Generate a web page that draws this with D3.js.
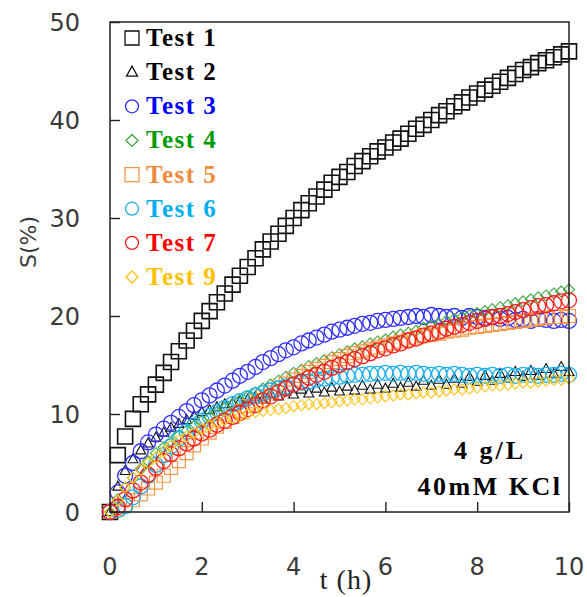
<!DOCTYPE html>
<html>
<head>
<meta charset="utf-8">
<script src="https://cdn.jsdelivr.net/npm/d3@7"></script>
<style>
  body { margin: 0; background: #fff; }
  svg { display: block; }
</style>
</head>
<body>
<svg width="587" height="597"></svg>
<script>
// time axis (h), one reading every 10 minutes
var times = [0, 0.17, 0.33, 0.5, 0.67, 0.83, 1, 1.17, 1.33, 1.5, 1.67, 1.83, 2,
    2.17, 2.33, 2.5, 2.67, 2.83, 3, 3.17, 3.33, 3.5, 3.67, 3.83, 4,
    4.17, 4.33, 4.5, 4.67, 4.83, 5, 5.17, 5.33, 5.5, 5.67, 5.83, 6,
    6.17, 6.33, 6.5, 6.67, 6.83, 7, 7.17, 7.33, 7.5, 7.67, 7.83, 8,
    8.17, 8.33, 8.5, 8.67, 8.83, 9, 9.17, 9.33, 9.5, 9.67, 9.83, 10];

var test1 = [0, 5.8, 7.7, 9.5, 11, 12, 13, 14.2, 15.3, 16.4, 17.5, 18.5, 19.5,
    20.5, 21.4, 22.3, 23.2, 24.1, 25, 25.9, 26.8, 27.6, 28.4, 29.2, 30,
    30.8, 31.5, 32.2, 32.9, 33.6, 34.2, 34.7, 35.3, 35.8, 36.3, 36.8, 37.2,
    37.7, 38.1, 38.6, 39.1, 39.5, 40, 40.5, 40.9, 41.4, 41.8, 42.3, 42.7,
    43.1, 43.5, 43.9, 44.3, 44.7, 45.1, 45.4, 45.8, 46.1, 46.4, 46.7, 47];
var test2 = [0, 2.6, 4.2, 5.4, 6.3, 7, 7.6, 8.1, 8.6, 9, 9.4, 9.8, 10.2,
    10.4, 10.7, 11, 11.1, 11.3, 11.5, 11.8, 11.5, 12.1, 11.8, 12.3, 12,
    12.5, 12.1, 12.6, 12.2, 12.7, 12.3, 12.8, 12.4, 12.9, 12.5, 13, 12.6,
    13.1, 12.7, 13.2, 12.8, 13.4, 12.9, 13.5, 13, 13.6, 13.1, 13.8, 13.3,
    13.9, 13.4, 14.1, 13.6, 14.3, 13.8, 14.4, 13.9, 14.6, 14.1, 14.8, 14.3];
var test3 = [0, 2, 3.7, 5, 6.2, 7.1, 7.9, 8.5, 9.1, 9.7, 10.3, 10.9, 11.4,
    11.9, 12.4, 12.9, 13.4, 13.9, 14.3, 14.8, 15.3, 15.7, 16.1, 16.5, 16.8,
    17.2, 17.5, 17.8, 18.1, 18.4, 18.6, 18.8, 19, 19.2, 19.3, 19.5, 19.6,
    19.7, 19.8, 19.9, 20, 19.9, 20.1, 20, 19.9, 20, 19.8, 20, 19.9,
    19.8, 19.9, 19.7, 19.8, 19.6, 19.7, 19.5, 19.7, 19.6, 19.5, 19.6, 19.5];
var test4 = [0, 1.3, 2.5, 3.5, 4.4, 5.2, 6, 6.6, 7.2, 7.8, 8.3, 8.8, 9.3,
    9.7, 10.2, 10.6, 11, 11.4, 11.8, 12.2, 12.6, 13, 13.4, 13.8, 14.2,
    14.5, 14.9, 15.2, 15.5, 15.8, 16.1, 16.4, 16.7, 16.9, 17.2, 17.4, 17.6,
    17.9, 18.1, 18.3, 18.5, 18.8, 19, 19.2, 19.5, 19.7, 19.9, 20.1, 20.3,
    20.5, 20.7, 20.9, 21.1, 21.3, 21.5, 21.7, 21.9, 22.1, 22.3, 22.5, 22.7];
var test5 = [0, 0.3, 0.7, 1.2, 1.8, 2.4, 3, 3.7, 4.5, 5.2, 6, 6.8, 7.5,
    8.1, 8.7, 9.2, 9.7, 10.3, 10.8, 11.3, 11.8, 12.2, 12.7, 13.1, 13.5,
    13.9, 14.3, 14.6, 14.9, 15.3, 15.6, 15.9, 16.2, 16.4, 16.6, 16.8, 17,
    17.2, 17.4, 17.6, 17.8, 18, 18.1, 18.2, 18.4, 18.5, 18.6, 18.8, 18.9,
    19, 19.1, 19.2, 19.3, 19.4, 19.5, 19.6, 19.7, 19.8, 19.9, 19.9, 20];
var test6 = [0, 0.2, 0.6, 1.5, 2.6, 3.7, 4.8, 5.8, 6.7, 7.5, 8.2, 8.8, 9.3,
    9.8, 10.2, 10.6, 11, 11.3, 11.6, 11.9, 12.1, 12.4, 12.6, 12.8, 13,
    13.2, 13.3, 13.5, 13.6, 13.7, 13.8, 13.9, 14, 14, 14.1, 14.1, 14.2,
    14.1, 14.2, 14.1, 14.2, 14.1, 14, 14.1, 14, 14.1, 14, 13.9, 14,
    13.9, 14, 13.9, 14, 13.9, 14, 14, 13.9, 14, 14, 14.1, 14];
var test7 = [0, 0.5, 1.3, 2.2, 3, 3.8, 4.5, 5.2, 5.9, 6.5, 7, 7.5, 8,
    8.4, 8.9, 9.3, 9.7, 10.1, 10.5, 10.9, 11.4, 11.8, 12.2, 12.6, 13,
    13.3, 13.7, 14, 14.3, 14.7, 15, 15.3, 15.6, 15.9, 16.2, 16.5, 16.7,
    17, 17.2, 17.5, 17.7, 18, 18.2, 18.4, 18.7, 18.9, 19.1, 19.3, 19.5,
    19.7, 19.9, 20, 20.2, 20.4, 20.6, 20.8, 21, 21.1, 21.3, 21.5, 21.6];
var test9 = [0, 1.2, 2.5, 3.5, 4.3, 5, 5.6, 6.2, 6.8, 7.3, 7.7, 8.1, 8.5,
    8.8, 9.1, 9.4, 9.6, 9.8, 10, 10.2, 10.3, 10.4, 10.5, 10.6, 10.8,
    10.9, 11, 11, 11.1, 11.2, 11.3, 11.4, 11.5, 11.5, 11.6, 11.7, 11.8,
    11.9, 12, 12, 12.1, 12.2, 12.2, 12.3, 12.4, 12.5, 12.5, 12.6, 12.7,
    12.8, 12.9, 12.9, 13, 13.1, 13.2, 13.2, 13.3, 13.4, 13.5, 13.5, 13.6];

var seriesNames = ['Test 1', 'Test 2', 'Test 3', 'Test 4', 'Test 5', 'Test 6', 'Test 7', 'Test 9'];
var seriesValues = [test1, test2, test3, test4, test5, test6, test7, test9];
var seriesShapes = ['square', 'triangle', 'circle', 'diamond', 'square', 'circle', 'circle', 'diamond'];
var markColors = ['#111111', '#111111', '#3030ff', '#3ca83c', '#f79646', '#1ab0ee', '#ff1a1a', '#ffc41a'];
var textColors = ['#000000', '#000000', '#0000ff', '#009a00', '#f08a3c', '#00aef0', '#ff0000', '#ffc000'];

var xTicks = [0, 2, 4, 6, 8, 10];
var yTicks = [0, 10, 20, 30, 40, 50];

d3.select(window).on('load', init);

function init() {
    var svg = d3.select('svg');
    var plotLeft = 110, plotRight = 569, plotTop = 22, plotBottom = 512;

    var xScale = d3.scaleLinear().domain([0, 10]).range([plotLeft, plotRight]);
    var yScale = d3.scaleLinear().domain([0, 50]).range([plotBottom, plotTop]);

    var markSize = [15, 10, 15, 11, 13, 15, 15, 11];
    var markStroke = [1.6, 1.1, 1.3, 1.1, 1.2, 1.3, 1.3, 1.1];

    // data marks
    seriesValues.forEach(function(vals, k) {
        svg.append('g')
            .selectAll('path')
            .data(vals)
            .enter()
            .append('path')
            .attr('d', shapePath(seriesShapes[k], markSize[k]))
            .attr('transform', function(d, i) {
                return 'translate(' + xScale(times[i]) + ',' + yScale(d) + ')';
            })
            .attr('fill', 'none')
            .attr('stroke', markColors[k])
            .attr('stroke-width', markStroke[k]);
    });

    // frame
    svg.append('rect')
        .attr('x', plotLeft).attr('y', plotTop)
        .attr('width', plotRight - plotLeft).attr('height', plotBottom - plotTop)
        .attr('fill', 'none')
        .attr('stroke', '#222')
        .attr('stroke-width', 1.5);

    // inward ticks, labels placed further out by hand
    var xAxis = d3.axisBottom(xScale).tickValues(xTicks).tickSize(-10).tickFormat('');
    var yAxis = d3.axisLeft(yScale).tickValues(yTicks).tickSize(-10).tickFormat('');

    svg.append('g')
        .attr('transform', 'translate(0,' + plotBottom + ')')
        .call(xAxis)
        .call(function(g) { g.select('.domain').remove(); })
        .selectAll('line').attr('stroke', '#222').attr('stroke-width', 1.4);

    svg.append('g')
        .attr('transform', 'translate(' + plotLeft + ',0)')
        .call(yAxis)
        .call(function(g) { g.select('.domain').remove(); })
        .selectAll('line').attr('stroke', '#222').attr('stroke-width', 1.4);

    svg.append('g')
        .selectAll('text')
        .data(xTicks)
        .enter()
        .append('text')
        .attr('x', function(d) { return xScale(d); })
        .attr('y', 575)
        .attr('text-anchor', 'middle')
        .style('font-family', 'DejaVu Sans')
        .style('font-size', '24px')
        .attr('fill', '#3a3a3a')
        .text(function(d) { return d; });

    svg.append('g')
        .selectAll('text')
        .data(yTicks)
        .enter()
        .append('text')
        .attr('x', 80)
        .attr('y', function(d) { return yScale(d) + 9; })
        .attr('text-anchor', 'end')
        .style('font-family', 'DejaVu Sans')
        .style('font-size', '24px')
        .attr('fill', '#3a3a3a')
        .text(function(d) { return d; });

    // axis titles
    svg.append('text')
        .attr('transform', 'translate(36,242) rotate(-90)')
        .attr('text-anchor', 'middle')
        .style('font-family', 'DejaVu Sans')
        .style('font-size', '22px')
        .attr('fill', '#3a3a3a')
        .text('S(%)');

    svg.append('text')
        .attr('x', 346)
        .attr('y', 589)
        .attr('text-anchor', 'middle')
        .style('font-family', 'Liberation Serif')
        .style('font-size', '28px')
        .style('letter-spacing', '1px')
        .attr('fill', '#222')
        .text('t (h)');

    // legend
    var legend = svg.append('g');
    var legendY = d3.scaleLinear().domain([0, 7]).range([38, 277]);
    var legSize = [14, 11, 13, 12, 14, 13, 13, 12];

    seriesNames.forEach(function(name, k) {
        legend.append('path')
            .attr('d', shapePath(seriesShapes[k], legSize[k]))
            .attr('transform', 'translate(132,' + legendY(k) + ')')
            .attr('fill', 'none')
            .attr('stroke', markColors[k])
            .attr('stroke-width', 1.3);
        legend.append('text')
            .attr('x', 146)
            .attr('y', legendY(k) + 8)
            .style('font-family', 'Liberation Serif')
            .style('font-weight', 'bold')
            .style('font-size', '25px')
            .style('letter-spacing', '1.5px')
            .attr('fill', textColors[k])
            .text(name);
    });

    // condition note
    svg.append('text')
        .attr('x', 490).attr('y', 459)
        .attr('text-anchor', 'middle')
        .style('font-family', 'Liberation Serif')
        .style('font-weight', 'bold')
        .style('font-size', '26px')
        .style('letter-spacing', '3px')
        .text('4 g/L');

    svg.append('text')
        .attr('x', 490).attr('y', 495)
        .attr('text-anchor', 'middle')
        .style('font-family', 'Liberation Serif')
        .style('font-weight', 'bold')
        .style('font-size', '26px')
        .style('letter-spacing', '2.5px')
        .text('40mM KCl');
}

// path for one marker of given shape, sized by s
function shapePath(shape, s) {
    if (shape == 'square') {
        return 'M' + (-s / 2) + ',' + (-s / 2) + 'h' + s + 'v' + s + 'h' + (-s) + 'Z';
    }
    if (shape == 'diamond') {
        return 'M0,' + (-s / 2) + 'L' + (s / 2) + ',0L0,' + (s / 2) + 'L' + (-s / 2) + ',0Z';
    }
    if (shape == 'triangle') {
        var h = s * 0.9;
        return 'M0,' + (-h * 0.6) + 'L' + (s / 2) + ',' + (h * 0.4) + 'L' + (-s / 2) + ',' + (h * 0.4) + 'Z';
    }
    return d3.arc()({innerRadius: 0, outerRadius: s / 2, startAngle: 0, endAngle: 2 * Math.PI});
}
</script>
</body>
</html>
